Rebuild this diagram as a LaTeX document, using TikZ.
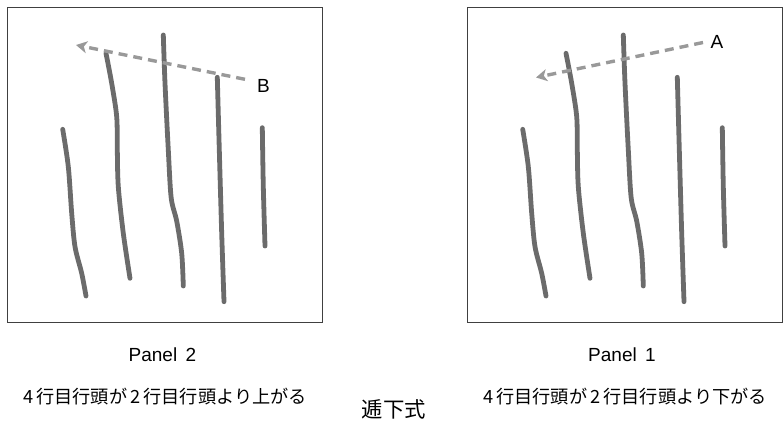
\documentclass[tikz,border=0pt]{standalone}
\usepackage{fontspec}
\setmainfont{Liberation Sans}
\newfontfamily\jp{Noto Sans CJK JP}
\usetikzlibrary{arrows.meta}
\tikzset{
  panel/.style={draw=black!75, line width=1.1pt},
  pencil/.style={draw=black!58, line width=4.8pt, line cap=round, line join=round},
  dasharrow/.style={draw=black!40, line width=3.4pt, dash pattern=on 9pt off 6pt,
     -{Stealth[length=11pt,width=12pt,inset=3pt]}},
  letter/.style={font=\fontsize{19}{19}\selectfont, inner sep=0pt},
  caption/.style={font=\fontsize{19}{20}\selectfont, inner sep=0pt},
  jcap/.style={font=\jp\fontsize{18.2}{20}\selectfont, inner sep=0pt},
}
\begin{document}
\begin{tikzpicture}[x=1pt,y=-1pt]
\useasboundingbox (0,0) rectangle (783,424);
% panels
\draw[panel] (7.5,7.5) rectangle (322.5,322.5);
\draw[panel] (467.5,7.5) rectangle (782.3,322.5);
% strokes (left and right, identical)
\foreach \dx in {0,460}{
\begin{scope}[xshift=\dx pt]
  \draw[pencil] plot[smooth] coordinates {(62.7,129.3) (68.3,166.7) (71.7,213.3) (75,246.7) (81.7,273.3) (86,296)};
  \draw[pencil] plot[smooth] coordinates {(106,53.3) (111.7,83.3) (116.7,116.7) (117.3,150) (118.3,186.7) (123.3,233.3) (130,278.3)};
  \draw[pencil] plot[smooth] coordinates {(163.3,35) (165,83.3) (168.3,150) (171.2,198) (176.7,221) (181.7,253.3) (183.3,286)};
  \draw[pencil] plot[smooth] coordinates {(217.3,77.3) (219.3,150) (221.7,233.3) (224,301.7)};
  \draw[pencil] plot[smooth] coordinates {(262.3,127.7) (263.3,186.7) (265,246)};
\end{scope}
}
% arrows
\coordinate (bstart) at (245,79.3);
\coordinate (bend) at (76,45);
\coordinate (astart) at (703,42.5);
\coordinate (aend) at (536,77.5);
\draw[dasharrow] (bstart) -- (bend);
\draw[dasharrow] (astart) -- (aend);
\node[letter] (B) at (263.5,85.5) {B};
\node[letter] (A) at (717,42) {A};
% captions
\node[caption] (p2) at (162.5,354.5) {Panel\, 2};
\node[caption] (p1) at (622,354.5) {Panel\, 1};
\node[jcap] (j2) at (165,397) {4\,行目行頭が\,2\,行目行頭より上がる};
\node[jcap] (j1) at (625,397) {4\,行目行頭が\,2\,行目行頭より下がる};
\node[font=\jp\fontsize{21.4}{22}\selectfont, inner sep=0pt] (t) at (394,409) {逓下式};
\end{tikzpicture}
\end{document}
